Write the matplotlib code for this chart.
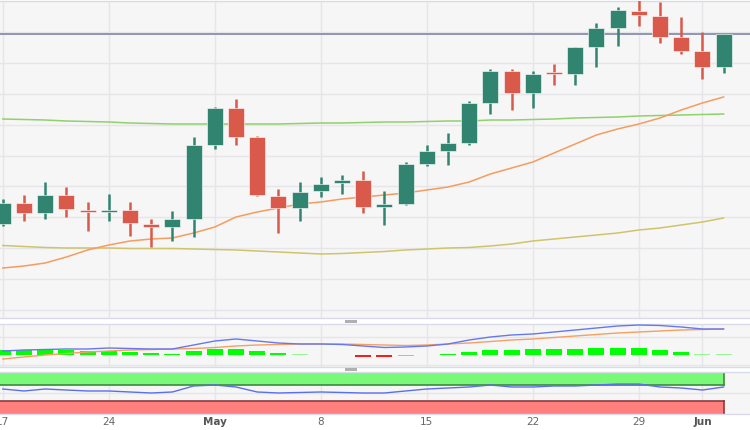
import matplotlib
matplotlib.use("Agg")
import matplotlib.pyplot as plt
from matplotlib.patches import Rectangle
import numpy as np

# ---------------- data ----------------
dates = ["Apr 17", "Apr 18", "Apr 19", "Apr 20", "Apr 21",
         "Apr 24", "Apr 25", "Apr 26", "Apr 27", "Apr 28",
         "May 1", "May 2", "May 3", "May 4", "May 5",
         "May 8", "May 9", "May 10", "May 11", "May 12",
         "May 15", "May 16", "May 17", "May 18", "May 19",
         "May 22", "May 23", "May 24", "May 25", "May 26",
         "May 29", "May 30", "May 31", "Jun 1", "Jun 2"]

opens  = [96, 117, 107, 125, 110, 108, 110, 96, 93, 101, 175, 212, 183, 124, 112,
          129, 137, 140, 113, 116, 156, 169, 177, 217, 249, 227, 247, 246, 273, 292,
          309, 304, 283, 269, 253]
highs  = [121, 125, 138, 133, 118, 126, 118, 101, 109, 183, 213, 221, 184, 131, 138,
          143, 145, 149, 129, 158, 175, 187, 219, 251, 251, 249, 256, 273, 297, 313,
          321, 318, 303, 288, 286]
lows   = [94, 99, 101, 103, 89, 99, 84, 73, 79, 83, 171, 175, 124, 87, 99,
          123, 126, 107, 95, 115, 154, 155, 175, 206, 210, 212, 235, 235, 253, 274,
          294, 277, 266, 241, 247]
closes = [117, 107, 125, 111, 108, 110, 97, 93, 101, 175, 212, 183, 125, 112, 128,
          136, 140, 113, 116, 156, 169, 177, 217, 249, 227, 246, 246.5, 273, 292, 310,
          305, 283, 269, 253, 286.5]

sma_fast = [52, 54, 57, 63, 70, 75, 79, 81, 82, 87, 93, 103, 108, 112, 116,
            118, 121, 123, 125, 127, 130, 133, 138, 146, 152, 158, 167, 176, 185, 191,
            196, 202, 210, 217, 223]
sma_mid = [201, 200.5, 200, 199, 198.5, 198, 197, 196.5, 196, 196, 196, 196, 196, 196, 196.5,
           197, 197, 197.5, 198, 198, 198.5, 199, 199, 200, 200, 200.5, 201, 202, 202.5, 203,
           204, 204.5, 205, 205.5, 206]
sma_slow = [74.5, 73.5, 72.5, 72, 72, 72, 71.5, 71.5, 71.5, 71, 70.5, 70, 69, 68, 67,
            66, 66.5, 67.5, 68.5, 70, 71, 72, 72.5, 74, 76, 79, 81, 83, 85, 87,
            90, 92, 95, 98, 102]
resistance_level = 286.5

macd_line = [4, 5, 5.5, 6, 6, 7, 6.5, 6, 6, 10, 14, 16, 14, 12, 11,
             11, 10.5, 9, 7.5, 8, 9, 11, 15, 18, 20, 21, 23, 25, 27, 29,
             30, 29.5, 28, 26, 26]
signal_line = [-4, -2, 0, 1.5, 3, 4, 5, 5.5, 6, 6.5, 7.5, 9, 10, 10.5, 11,
               11, 11, 10.5, 10, 9.5, 10, 11, 12, 13.5, 15, 16, 17.5, 19, 20.5, 22,
               23, 24, 25, 25.5, 26]
macd_hist = [5, 5, 5.7, 5, 4, 3.7, 2.7, 1.7, 1.4, 3.7, 6.3, 6.3, 3.7, 1.7, 1.0,
             0.5, -0.3, -1.7, -2.0, -1.3, 0.3, 1.4, 3, 5.3, 5.3, 5.7, 5.7, 6, 6.7, 7.3,
             6.7, 5, 3, 1.2, 0.7]

rsi = [59.5, 54.8, 59.5, 57.1, 54.8, 54.8, 52.4, 50, 52.4, 66.7, 69, 64.3, 52.4, 50, 51.2,
       52.4, 51.2, 50, 50, 54.8, 59.5, 61.9, 64.3, 69, 64.3, 64.3, 66.7, 66.7, 69, 71.4,
       71.4, 64.3, 61.9, 57.1, 64.3]
rsi_overbought = 70
rsi_oversold = 30

tick_labels = ["17", "24", "May", "8", "15", "22", "29", "Jun"]
tick_dates = ["Apr 17", "Apr 24", "May 1", "May 8", "May 15", "May 22", "May 29", "Jun 1"]

# ---------------- styling ----------------
W, H = 750, 430
fig = plt.figure(figsize=(W / 100, H / 100), dpi=100, facecolor="white")

def ax_at(top, bottom):
    return fig.add_axes([0, 1 - bottom / H, 1, (bottom - top) / H])

PANEL_BG = "#f6f6f6"
GRID = "#e6e6ea"
SPINE = "#d9dce8"
UP = "#318570"
DOWN = "#d9594a"

x = np.arange(len(dates))
xmin = (0 - 2.8) / 21.2
xmax = (W - 2.8) / 21.2
week_idx = [dates.index(d) for d in tick_dates]

ax = ax_at(1, 318)
ax_m = ax_at(324, 367)
ax_r = ax_at(372, 414)

for a in (ax, ax_m, ax_r):
    a.set_facecolor(PANEL_BG)
    a.set_xlim(xmin, xmax)
    a.set_xticks([])
    a.set_yticks([])
    for s in a.spines.values():
        s.set_color(SPINE)
        s.set_linewidth(1)
    a.spines["left"].set_visible(False)
    a.spines["right"].set_visible(False)
    for wi in week_idx:
        a.axvline(wi, color=GRID, lw=1, zorder=0)

# ---- main panel ----
ax.set_ylim(2, 319)
for gy in np.arange(10, 319, 30.9):
    ax.axhline(gy, color=GRID, lw=1, zorder=0)

ax.plot(x, sma_mid, color="#8fd16a", lw=1.1, zorder=2)
ax.plot(x, sma_slow, color="#cfc46a", lw=1.1, zorder=2)
ax.plot(x, sma_fast, color="#f59c5e", lw=1.1, zorder=2)
ax.axhline(resistance_level, color="#8d97b5", lw=1.4, zorder=1)

bw = 0.75
for i in x:
    o, h, l, c = opens[i], highs[i], lows[i], closes[i]
    col = UP if c >= o else DOWN
    ax.vlines(i, l, h, color=col, lw=1.8, zorder=3)
    lo, hi = min(o, c), max(o, c)
    if hi - lo < 2:
        lo, hi = (lo + hi) / 2 - 1, (lo + hi) / 2 + 1
    ax.add_patch(Rectangle((i - bw / 2, lo), bw, hi - lo, facecolor=col,
                           edgecolor="#ffffff", lw=0.4, zorder=4))

# ---- MACD panel ----
ax_m.set_ylim(-12, 31)
for gy in (18, -10):
    ax_m.axhline(gy, color=GRID, lw=1, zorder=0)
for i in x:
    hv = macd_hist[i]
    col = "#00ff00" if hv >= 0 else "#ff1a1a"
    alpha = 1.0 if abs(hv) >= 1.35 else 0.4
    ax_m.bar(i, hv, width=0.75, color=col, alpha=alpha, zorder=2)
ax_m.plot(x, signal_line, color="#f5a062", lw=1.0, zorder=3)
ax_m.plot(x, macd_line, color="#6678f0", lw=1.0, zorder=4)

# ---- RSI panel ----
ax_r.set_ylim(0, 100)
ax_r.axhline(50, color=GRID, lw=1, zorder=0)
band_left = xmin
band_right = x[-1]
ax_r.add_patch(Rectangle((band_left, rsi_overbought), band_right - band_left, 100 - rsi_overbought,
                         facecolor="#7af87a", edgecolor="none", zorder=1))
ax_r.add_patch(Rectangle((band_left, 0), band_right - band_left, rsi_oversold,
                         facecolor="#ff7f7f", edgecolor="none", zorder=1))
ax_r.plot([band_left, band_right], [rsi_overbought] * 2, color="#3d8a3d", lw=1.2, zorder=2)
ax_r.plot([band_left, band_right], [rsi_oversold] * 2, color="#8a3d3d", lw=1.2, zorder=2)
ax_r.plot([band_right] * 2, [rsi_overbought, 100], color="#3d8a3d", lw=1.2, zorder=2)
ax_r.plot([band_right] * 2, [0, rsi_oversold], color="#8a3d3d", lw=1.2, zorder=2)
ax_r.plot(x, rsi, color="#5a6ef0", lw=1.0, zorder=3)

# ---- x labels ----
for lab, wi in zip(tick_labels, week_idx):
    bold = lab in ("May", "Jun")
    ax_r.text(wi, -20, lab, ha="center", va="center", fontsize=7.5,
              color="#666666" if not bold else "#555555",
              fontweight="bold" if bold else "normal", clip_on=False)

# ---- panel handles ----
for yy in (320, 368):
    fig.patches.append(Rectangle((345 / W, 1 - (yy + 3) / H), 12 / W, 3 / H,
                                 transform=fig.transFigure, facecolor="#b0b0b0",
                                 edgecolor="none"))

fig.savefig("out.png", dpi=100, facecolor="white")
